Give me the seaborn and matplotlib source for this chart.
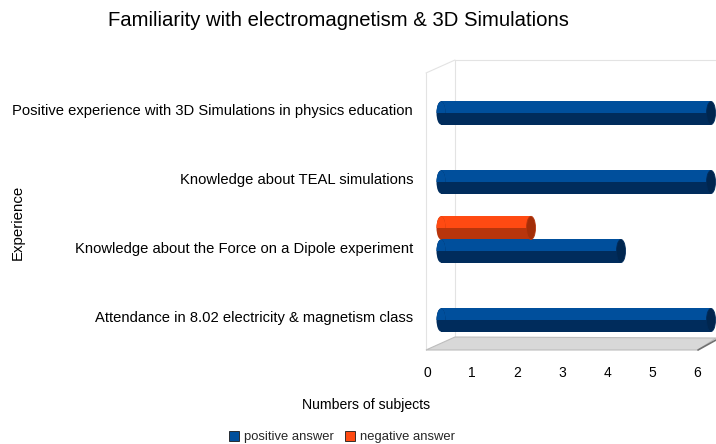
import matplotlib
matplotlib.use("Agg")
import matplotlib.pyplot as plt
from matplotlib.patches import Rectangle, Ellipse, Polygon, Patch
from matplotlib.lines import Line2D
from matplotlib.transforms import ScaledTranslation
import seaborn as sns
import pandas as pd

# Survey answers per question
categories = [
    "Positive experience with 3D Simulations in physics education",
    "Knowledge about TEAL simulations",
    "Knowledge about the Force on a Dipole experiment",
    "Attendance in 8.02 electricity & magnetism class",
]
positive = [6, 6, 4, 6]
negative = [0, 0, 2, 0]
x_ticks = [0, 1, 2, 3, 4, 5, 6]
series_names = ["positive answer", "negative answer"]

# cylinder shading: (top, bottom, cap)
shades = {
    "positive answer": ("#004f9c", "#002c5c", "#00264f"),
    "negative answer": ("#ff4a12", "#b8350c", "#a32e08"),
}

sns.set_theme(style="white")
plt.rcParams["font.family"] = ["Liberation Sans", "DejaVu Sans"]

W, H = 716, 444
fig = plt.figure(figsize=(W / 100, H / 100), dpi=100)


def fpx(x, y):
    return (x / W, 1 - y / H)


# axes box in pixels
AX_L, AX_R, AX_T, AX_B = 420, 716, 60, 350
ax = fig.add_axes([AX_L / W, 1 - AX_B / H, (AX_R - AX_L) / W, (AX_B - AX_T) / H])
ax.set_facecolor("none")

df = pd.DataFrame({"Experience": categories,
                   series_names[0]: positive,
                   series_names[1]: negative})
long = df.melt(id_vars="Experience", var_name="answer", value_name="count")
pos = long[long["answer"] == series_names[0]]
neg = long[(long["answer"] == series_names[1]) & (long["count"] > 0)]

BAR_H = 0.335
sns.barplot(data=pos, x="count", y="Experience", order=categories, orient="h",
            width=BAR_H, color=shades[series_names[0]][0], saturation=1, ax=ax)
n_pos = len(ax.patches)
sns.barplot(data=neg, x="count", y="Experience", order=categories, orient="h",
            width=BAR_H, color=shades[series_names[1]][0], saturation=1, ax=ax)

# pixel scale: bars start at 441 px (depth offset), 45 px per unit
X0_PX, UNIT_PX = 441, 45
TICK_SHIFT_PX = 14
ax.set_xlim((AX_L - X0_PX) / UNIT_PX, (AX_R - X0_PX) / UNIT_PX)
CAT0_PX, STEP_PX = 113, 69
ax.set_ylim((AX_B - CAT0_PX) / STEP_PX, (AX_T - CAT0_PX) / STEP_PX)

cap_w = 9 / UNIT_PX
bars = list(ax.patches)
for i, p in enumerate(bars):
    name = series_names[0] if i < n_pos else series_names[1]
    top, bottom, cap = shades[name]
    x0, w, h = p.get_x(), p.get_width(), p.get_height()
    yc = p.get_y() + h / 2
    if name == series_names[1]:
        # negative bar sits just above the positive one
        p.set_y(p.get_y() - h)
        yc -= h
    y0 = yc - h / 2
    z = 3 if name == series_names[1] else 2
    p.set_zorder(z)
    p.set_edgecolor("none")
    # lower half of the cylinder in shadow
    ax.add_patch(Rectangle((x0, yc), w, h / 2, facecolor=bottom,
                           edgecolor="none", zorder=z))
    # rounded left end
    left_dark = Ellipse((x0, yc), cap_w, h, facecolor=bottom, edgecolor="none", zorder=z)
    left_light = Ellipse((x0, yc), cap_w, h, facecolor=top, edgecolor="none", zorder=z)
    clip = Rectangle((x0 - cap_w, y0), 2 * cap_w, h / 2, transform=ax.transData)
    ax.add_patch(left_dark)
    ax.add_patch(left_light)
    left_light.set_clip_path(clip)
    # end cap
    ax.add_patch(Ellipse((x0 + w, yc), cap_w, h, facecolor=cap,
                         edgecolor=bottom, linewidth=0.6, zorder=z))

for s in ax.spines.values():
    s.set_visible(False)
ax.set_xlabel("")
ax.set_ylabel("")
ax.set_xticks(x_ticks)
ax.set_xticklabels([str(t) for t in x_ticks])
ax.set_yticks(range(len(categories)))
ax.set_yticklabels(categories)
ax.tick_params(axis="both", length=0, labelcolor="#000000")
ax.tick_params(axis="x", pad=11.5, labelsize=10)
ax.tick_params(axis="y", pad=5, labelsize=10.6)
for lab in ax.get_xticklabels():
    lab.set_transform(lab.get_transform()
                      + ScaledTranslation(-TICK_SHIFT_PX / 100, 0, fig.dpi_scale_trans))
for lab in ax.get_yticklabels():
    lab.set_transform(lab.get_transform() + ScaledTranslation(0, 0.04, fig.dpi_scale_trans))

# 3D box: back wall, side wall and floor
wall = "#e3e3e3"
for (a, b) in [((455, 60), (716, 60)), ((455, 60), (455, 337)),
               ((426, 73), (426, 350)), ((426, 73), (455, 60))]:
    fig.add_artist(Line2D([fpx(*a)[0], fpx(*b)[0]], [fpx(*a)[1], fpx(*b)[1]],
                          color=wall, linewidth=0.8, zorder=0))
floor = Polygon([fpx(426, 350), fpx(698, 350), fpx(716, 338), fpx(455, 337)],
                closed=True, facecolor="#d8d8d8", edgecolor="#bdbdbd",
                linewidth=0.8, transform=fig.transFigure, zorder=0)
fig.add_artist(floor)
fig.add_artist(Line2D([fpx(698, 350)[0], fpx(716, 340)[0]],
                      [fpx(698, 350)[1], fpx(716, 340)[1]],
                      color="#707070", linewidth=1.2, zorder=0))

fig.text(*fpx(338, 20), "Familiarity with electromagnetism & 3D Simulations",
         ha="center", va="center", fontsize=14.6, color="#000000")
fig.text(*fpx(366, 405), "Numbers of subjects", ha="center", va="center",
         fontsize=10.1, color="#000000")
fig.text(*fpx(18, 222), "Experience", ha="center", va="center",
         rotation=90, fontsize=10.8, color="#000000")

handles = [Patch(facecolor=shades[n][0], edgecolor="#1a1a1a", linewidth=0.6)
           for n in series_names]
fig.legend(handles, series_names, loc="center", bbox_to_anchor=fpx(342, 437),
           ncol=2, frameon=False, fontsize=9.4, handlelength=0.8, handleheight=0.8,
           handletextpad=0.4, columnspacing=0.8, borderaxespad=0, borderpad=0)

fig.savefig("out.png", dpi=100)
